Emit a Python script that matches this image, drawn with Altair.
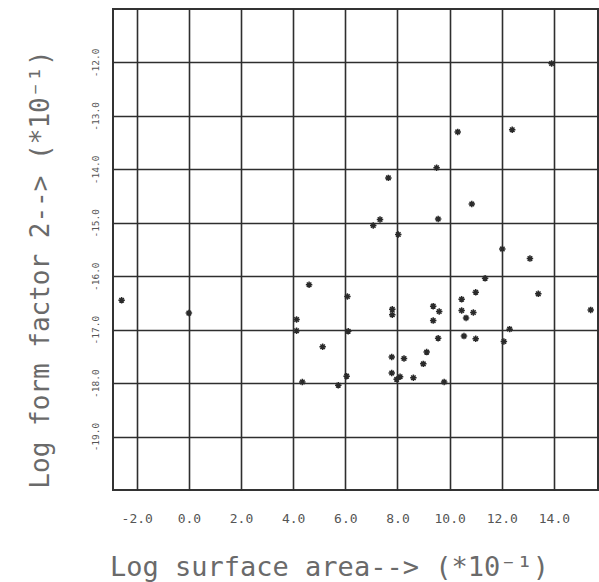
import altair as alt
import pandas as pd

x_vals = [-2.58, 0.0, 4.13, 4.13, 4.61, 5.13, 4.35, 5.73, 6.05, 6.08, 6.11,
          7.80, 7.80, 7.78, 8.25, 7.78, 7.97, 8.10, 8.61, 8.99, 9.12, 9.79,
          9.56, 9.37, 9.60, 9.37, 10.46, 10.46, 10.63, 10.91, 11.00, 11.36,
          10.55, 11.00, 12.08, 12.30, 13.40, 15.41, 12.02, 13.08, 7.07, 7.33,
          8.03, 9.56, 10.85, 7.65, 9.50, 10.31, 12.40, 13.91]
y_vals = [-16.45, -16.69, -16.81, -17.02, -16.16, -17.32, -17.98, -18.04, -17.87, -16.38, -17.03,
          -16.62, -16.72, -17.51, -17.54, -17.81, -17.93, -17.88, -17.90, -17.64, -17.42, -17.98,
          -17.16, -16.56, -16.66, -16.83, -16.43, -16.64, -16.78, -16.68, -16.30, -16.04,
          -17.12, -17.17, -17.22, -16.99, -16.33, -16.63, -15.49, -15.67, -15.05, -14.94,
          -15.22, -14.93, -14.65, -14.16, -13.97, -13.30, -13.26, -12.02]

x_ticks = [-2, 0, 2, 4, 6, 8, 10, 12, 14]
y_ticks = [-19, -18, -17, -16, -15, -14, -13, -12]

x_title = "Log surface area--> (*10\u207b\u00b9)"
y_title = "Log form factor 2--> (*10\u207b\u00b9)"

df = pd.DataFrame({"x": x_vals, "y": y_vals})

star = "M-1,0L1,0M0,-1L0,1M-0.7,-0.7L0.7,0.7M-0.7,0.7L0.7,-0.7"

font = "DejaVu Sans Mono"
label_expr = "replace(format(datum.value, '.1f'), '\u2212', '-')"

chart = alt.Chart(df).mark_point(
    shape=star, size=42, filled=False, stroke="#2a2a2a", strokeWidth=1.5, opacity=1
).encode(
    x=alt.X("x:Q",
            scale=alt.Scale(domain=[-2.91, 15.69], nice=False, zero=False),
            axis=alt.Axis(values=x_ticks, labelExpr=label_expr, title=x_title,
                          grid=True, gridColor="#2e2e2e", gridWidth=1.6, gridOpacity=1,
                          ticks=False, tickSize=0, domain=False,
                          labelFont=font, labelFontSize=13, labelColor="#555",
                          labelPadding=22, labelBaseline="top",
                          titleFont=font, titleFontSize=27, titleFontWeight="normal",
                          titleColor="#6a6a6a", titleX=216, titleY=85,
                          titleAlign="center", titleBaseline="alphabetic")),
    y=alt.Y("y:Q",
            scale=alt.Scale(domain=[-20, -11], nice=False, zero=False),
            axis=alt.Axis(values=y_ticks, labelExpr=label_expr, title=y_title,
                          grid=True, gridColor="#2e2e2e", gridWidth=1.6, gridOpacity=1,
                          ticks=False, tickSize=0, domain=False,
                          labelFont=font, labelFontSize=9.5, labelColor="#555",
                          labelAngle=270, labelAlign="center", labelBaseline="middle",
                          labelPadding=18,
                          titleFont=font, titleFontSize=26, titleFontWeight="normal",
                          titleColor="#6a6a6a", titleX=-65, titleY=260, titleAngle=270,
                          titleAlign="center", titleBaseline="alphabetic")),
).properties(
    width=485, height=481,
    autosize=alt.AutoSizeParams(type="none"),
    padding={"left": 113, "top": 9, "right": 1, "bottom": 92},
    background="white",
).configure_view(stroke="#333", strokeWidth=2)

chart.save("out.html", embed_options={"renderer": "svg", "actions": False})
